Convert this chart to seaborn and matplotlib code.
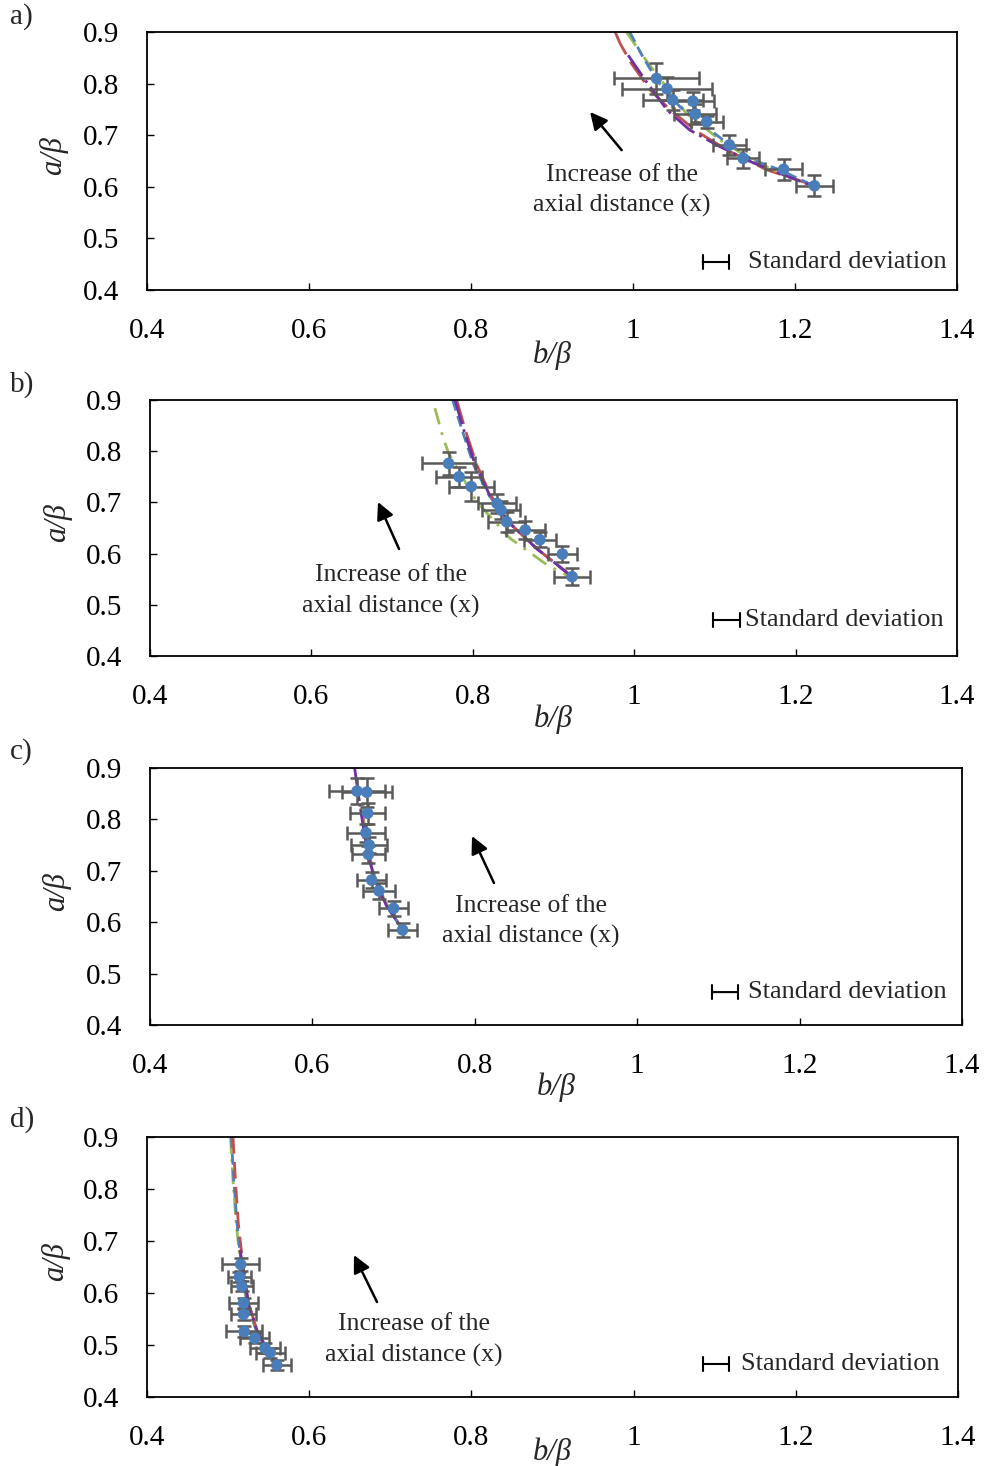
import matplotlib
matplotlib.use("Agg")
import matplotlib.pyplot as plt
import numpy as np
import pandas as pd
import seaborn as sns

# ---------------- data ----------------
tick_x = [0.4, 0.6, 0.8, 1.0, 1.2, 1.4]
tick_x_labels = ["0.4", "0.6", "0.8", "1", "1.2", "1.4"]
tick_y = [0.4, 0.5, 0.6, 0.7, 0.8, 0.9]
tick_y_labels = ["0.4", "0.5", "0.6", "0.7", "0.8", "0.9"]
panel_labels = ["a)", "b)", "c)", "d)"]

# panel a measurements
a_b = [1.029, 1.042, 1.049, 1.074, 1.077, 1.091, 1.119, 1.136, 1.186, 1.224]
a_a = [0.810, 0.790, 0.768, 0.766, 0.741, 0.726, 0.681, 0.655, 0.634, 0.602]
a_berr = [0.052, 0.056, 0.037, 0.026, 0.026, 0.020, 0.020, 0.020, 0.023, 0.023]
a_aerr = [0.030, 0.022, 0.020, 0.018, 0.020, 0.012, 0.020, 0.018, 0.020, 0.020]
# panel a fitted curves
a_red_b = [0.978, 0.984, 0.998, 1.021, 1.046, 1.079, 1.120, 1.165, 1.219]
a_red_a = [0.900, 0.878, 0.839, 0.788, 0.749, 0.707, 0.668, 0.633, 0.605]
a_blue_b = [0.996, 1.011, 1.030, 1.058, 1.111, 1.148, 1.181, 1.219]
a_blue_a = [0.900, 0.855, 0.805, 0.755, 0.691, 0.652, 0.633, 0.605]
a_green_b = [0.992, 1.005, 1.019, 1.066, 1.110, 1.150, 1.190]
a_green_a = [0.900, 0.870, 0.839, 0.742, 0.688, 0.650, 0.620]
a_purple_b = [0.994, 1.015, 1.042, 1.070, 1.107, 1.149, 1.219]
a_purple_a = [0.855, 0.807, 0.749, 0.710, 0.678, 0.646, 0.603]

# panel b measurements
b_b = [0.770, 0.783, 0.798, 0.830, 0.835, 0.842, 0.865, 0.883, 0.911, 0.923]
b_a = [0.776, 0.750, 0.731, 0.698, 0.685, 0.662, 0.646, 0.627, 0.599, 0.555]
b_berr = [0.033, 0.029, 0.028, 0.024, 0.024, 0.023, 0.024, 0.020, 0.018, 0.022]
b_aerr = [0.023, 0.020, 0.028, 0.018, 0.018, 0.020, 0.018, 0.015, 0.015, 0.016]
# panel b fitted curves
b_red_b = [0.780, 0.790, 0.805, 0.822, 0.846, 0.879, 0.923]
b_red_a = [0.900, 0.845, 0.773, 0.714, 0.659, 0.610, 0.555]
b_blue_b = [0.775, 0.786, 0.801, 0.820, 0.846, 0.879, 0.923]
b_blue_a = [0.900, 0.845, 0.773, 0.714, 0.659, 0.610, 0.555]
b_green_b = [0.753, 0.7635, 0.770, 0.805, 0.846, 0.892, 0.920]
b_green_a = [0.884, 0.825, 0.796, 0.701, 0.630, 0.578, 0.555]
b_purple_b = [0.778, 0.788, 0.803, 0.821, 0.846, 0.879, 0.923]
b_purple_a = [0.900, 0.845, 0.773, 0.714, 0.659, 0.610, 0.555]

# panel c measurements
c_b = [0.655, 0.667, 0.668, 0.666, 0.670, 0.669, 0.673, 0.682, 0.700, 0.711]
c_a = [0.855, 0.853, 0.812, 0.774, 0.750, 0.732, 0.682, 0.661, 0.627, 0.585]
c_berr = [0.035, 0.031, 0.022, 0.023, 0.022, 0.020, 0.018, 0.020, 0.018, 0.018]
c_aerr = [0.025, 0.028, 0.020, 0.018, 0.016, 0.016, 0.016, 0.016, 0.014, 0.014]
# panel c fitted curves
c_red_b = [0.661, 0.668, 0.678, 0.692, 0.711]
c_red_a = [0.822, 0.744, 0.679, 0.633, 0.585]
c_blue_b = [0.660, 0.667, 0.677, 0.691, 0.711]
c_blue_a = [0.822, 0.744, 0.679, 0.633, 0.585]
c_green_b = [0.660, 0.668, 0.678, 0.692, 0.711]
c_green_a = [0.822, 0.744, 0.679, 0.633, 0.585]
c_purple_b = [0.652, 0.659, 0.667, 0.677, 0.691, 0.711]
c_purple_a = [0.900, 0.822, 0.744, 0.679, 0.633, 0.585]

# panel d measurements
d_b = [0.5155, 0.514, 0.517, 0.519, 0.519, 0.520, 0.533, 0.5455, 0.552, 0.560]
d_a = [0.655, 0.631, 0.613, 0.581, 0.559, 0.526, 0.513, 0.494, 0.485, 0.4615]
d_berr = [0.023, 0.014, 0.014, 0.018, 0.015, 0.022, 0.018, 0.018, 0.018, 0.017]
d_aerr = [0.012, 0.010, 0.010, 0.010, 0.010, 0.010, 0.010, 0.010, 0.010, 0.010]
# panel d fitted curves
d_red_b = [0.506, 0.509, 0.5126, 0.519, 0.525, 0.537, 0.560]
d_red_a = [0.900, 0.817, 0.734, 0.644, 0.580, 0.522, 0.4615]
d_blue_b = [0.504, 0.507, 0.511, 0.517, 0.524, 0.536, 0.560]
d_blue_a = [0.900, 0.817, 0.734, 0.644, 0.580, 0.522, 0.4615]
d_green_b = [0.503, 0.506, 0.510, 0.516, 0.523, 0.536, 0.560]
d_green_a = [0.900, 0.817, 0.734, 0.644, 0.580, 0.522, 0.4615]
d_purple_b = [0.5147, 0.519, 0.525, 0.537, 0.560]
d_purple_a = [0.683, 0.644, 0.580, 0.522, 0.4615]

annot_text1 = "Increase of the"
annot_text2 = "axial distance (x)"
legend_text = "Standard deviation"

# ---------------- styling / layout ----------------
sns.set_theme(style="white")
plt.rcParams["font.family"] = ["Liberation Serif", "DejaVu Serif"]

COL_BLUE = "#4F81BD"
COL_RED = "#C0504D"
COL_GREEN = "#9BBB59"
COL_PURPLE = "#7030A0"
COL_PT = "#4A7EBB"
COL_ERR = "#595959"

TICK_FS = 21
LAB_FS = 22
TXT_FS = 18.5
LEG_FS = 19

W, H = 984, 1466
fig = plt.figure(figsize=(W / 100, H / 100), dpi=100)

# axes pixel boxes (left, right, top, bottom)
boxes = [(147, 957, 32, 290), (150, 957, 400, 656), (150, 962, 768, 1025), (147, 958, 1137, 1397)]

panels = [
    dict(b=a_b, a=a_a, be=a_berr, ae=a_aerr,
         curves=[(a_red_b, a_red_a, COL_RED, (9, 3)), (a_green_b, a_green_a, COL_GREEN, (6, 2, 1, 2)),
                 (a_blue_b, a_blue_a, COL_BLUE, (4, 2)), (a_purple_b, a_purple_a, COL_PURPLE, (9, 2, 1, 2))],
         arrow=((0.986, 0.671), (0.947, 0.745)), txt=(0.986, 0.623, 0.563),
         leg=(0.686, 0.7185, 0.1085, 0.742), ylab=(-0.097, 0.52), xlab=-0.252),
    dict(b=b_b, a=b_a, be=b_berr, ae=b_aerr,
         curves=[(b_green_b, b_green_a, COL_GREEN, (6, 3, 1, 3)), (b_blue_b, b_blue_a, COL_BLUE, (4, 2)),
                 (b_red_b, b_red_a, COL_RED, (9, 3)), (b_purple_b, b_purple_a, COL_PURPLE, (9, 2, 1, 2))],
         arrow=((0.7086, 0.609), (0.6825, 0.7008)), txt=(0.6986, 0.558, 0.4977),
         leg=(0.6976, 0.731, 0.1406, 0.737), ylab=(-0.097, 0.52), xlab=-0.246),
    dict(b=c_b, a=c_a, be=c_berr, ae=c_aerr,
         curves=[(c_red_b, c_red_a, COL_RED, (9, 3)), (c_blue_b, c_blue_a, COL_BLUE, (4, 2)),
                 (c_green_b, c_green_a, COL_GREEN, (6, 2, 1, 2)), (c_purple_b, c_purple_a, COL_PURPLE, (12, 1, 1, 1))],
         arrow=((0.8236, 0.6763), (0.7966, 0.7677)), txt=(0.8692, 0.6315, 0.5732),
         leg=(0.692, 0.724, 0.128, 0.7365), ylab=(-0.097, 0.52), xlab=-0.241),
    dict(b=d_b, a=d_a, be=d_berr, ae=d_aerr,
         curves=[(d_green_b, d_green_a, COL_GREEN, (6, 2, 1, 2)), (d_blue_b, d_blue_a, COL_BLUE, (4, 2)),
                 (d_red_b, d_red_a, COL_RED, (6, 3)), (d_purple_b, d_purple_a, COL_PURPLE, (9, 2, 1, 2))],
         arrow=((0.6836, 0.5827), (0.6552, 0.673)), txt=(0.7292, 0.5404, 0.4808),
         leg=(0.6855, 0.7176, 0.127, 0.7324), ylab=(-0.095, 0.52), xlab=-0.2115),
]

label_y = [17, 385, 752, 1120]

for i, (box, p) in enumerate(zip(boxes, panels)):
    l, r, t, btm = box
    ax = fig.add_axes([l / W, 1 - btm / H, (r - l) / W, (btm - t) / H])

    for cb, ca, col, dash in p["curves"]:
        df = pd.DataFrame({"b": cb, "a": ca})
        sns.lineplot(data=df, x="b", y="a", sort=False, estimator=None, color=col,
                     linewidth=2.0, ax=ax, zorder=2)
        ax.lines[-1].set_dashes(dash)

    ax.errorbar(p["b"], p["a"], xerr=p["be"], yerr=p["ae"], fmt="none",
                ecolor=COL_ERR, elinewidth=1.8, capsize=5, capthick=1.8, zorder=3)
    sns.scatterplot(x=p["b"], y=p["a"], color=COL_PT, s=70, edgecolor="none",
                    zorder=4, ax=ax)

    ax.set_xlim(0.4, 1.4)
    ax.set_ylim(0.4, 0.9)
    ax.set_xticks(tick_x)
    ax.set_xticklabels(tick_x_labels)
    ax.set_yticks(tick_y)
    ax.set_yticklabels(tick_y_labels)
    ax.tick_params(direction="in", length=5, width=1, labelsize=TICK_FS, pad=20,
                   bottom=True, left=True, colors="black")
    for s in ax.spines.values():
        s.set_color("black")
        s.set_linewidth(1.3)

    ax.set_xlabel("b/β", fontsize=LAB_FS, fontstyle="italic")
    ax.xaxis.set_label_coords(0.5, p["xlab"])
    ax.xaxis.label.set_verticalalignment("center")
    ax.set_ylabel("a/β", fontsize=LAB_FS, fontstyle="italic")
    ax.yaxis.set_label_coords(*p["ylab"])

    # arrow and annotation
    (x0, y0), (x1, y1) = p["arrow"]
    ax.annotate("", xy=(x1, y1), xytext=(x0, y0),
                arrowprops=dict(arrowstyle="-|>", color="black", lw=1.8, mutation_scale=26,
                                shrinkA=0, shrinkB=0))
    tx, ty1, ty2 = p["txt"]
    ax.text(tx, ty1, annot_text1, ha="center", va="center", fontsize=TXT_FS)
    ax.text(tx, ty2, annot_text2, ha="center", va="center", fontsize=TXT_FS)

    # standard deviation legend
    lx0, lx1, ly, ltx = p["leg"]
    ax.annotate("", xy=(lx1, ly), xytext=(lx0, ly), xycoords="axes fraction",
                textcoords="axes fraction",
                arrowprops=dict(arrowstyle="|-|, widthA=0.25, widthB=0.25", color="black",
                                lw=1.5, shrinkA=0, shrinkB=0, mutation_scale=20))
    ax.text(ltx, ly, legend_text, transform=ax.transAxes, ha="left", va="center",
            fontsize=LEG_FS)

    fig.text(10 / W, 1 - label_y[i] / H, panel_labels[i], fontsize=21, ha="left", va="center")

fig.savefig("out.png", dpi=100, facecolor="white")
